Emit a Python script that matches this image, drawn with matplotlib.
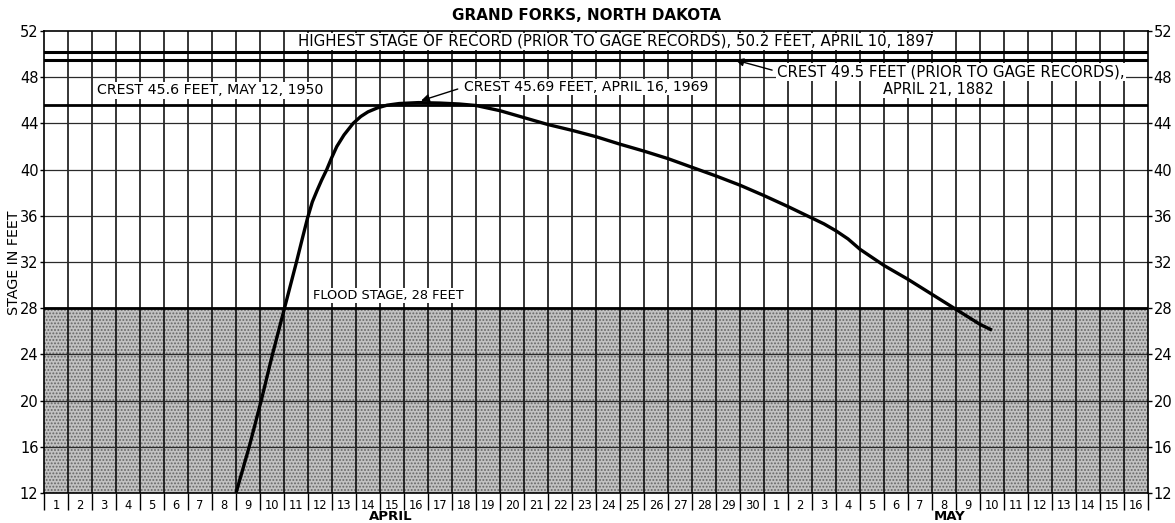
import matplotlib
matplotlib.use("Agg")
import matplotlib.pyplot as plt
from matplotlib.transforms import blended_transform_factory

# ---- data ----
# x = days elapsed since start of April 1 (cell of day n spans n-1..n)
hydro_day = [8.0, 8.55, 9.05, 9.52, 10.02, 10.52, 10.76, 10.98, 11.18, 11.38, 11.57,
             11.78, 11.98, 12.2, 12.5, 12.88, 13.2, 13.5, 13.9, 14.3, 14.8, 15.6, 16.5,
             17.3, 18.0, 19.0, 20.0, 21.0, 22.0, 23.0, 24.0, 25.0, 26.0, 27.0, 28.0,
             29.0, 30.0, 31.0, 32.0, 32.5, 33.0, 33.5, 34.0, 35.0, 36.0, 37.0, 38.0,
             39.0, 39.5]
hydro_stage = [12.0, 16.0, 20.0, 24.0, 28.0, 32.0, 34.0, 35.8, 37.2, 38.2, 39.1,
               40.0, 41.0, 42.0, 43.0, 44.0, 44.6, 45.0, 45.35, 45.58, 45.72, 45.8, 45.76,
               45.68, 45.55, 45.1, 44.5, 43.9, 43.4, 42.85, 42.2, 41.6, 40.95, 40.2,
               39.45, 38.65, 37.75, 36.8, 35.8, 35.3, 34.7, 34.0, 33.1, 31.7, 30.5,
               29.2, 27.9, 26.6, 26.1]

april_days = list(range(1, 31))
may_days = list(range(1, 17))
day_labels = [str(d) for d in april_days + may_days]

y_ticks = list(range(12, 53, 4))
flood_stage = 28.0
highest_1897 = 50.2
crest_1882 = 49.5
crest_1950 = 45.6
crest_1969 = 45.69
crest_1969_day = 15.6

title = "GRAND FORKS, NORTH DAKOTA"
ylabel = "STAGE IN FEET"

# ---- figure ----
fig = plt.figure(figsize=(11.75, 5.23), dpi=100)
ax = fig.add_axes([44/1175, 30/523, (1148-44)/1175, (493-31)/523])
n_days = len(day_labels)
ax.set_xlim(0, n_days)
ax.set_ylim(12, 52)

plt.rcParams['hatch.linewidth'] = 0.9
# stippled flood area
ax.axhspan(12, flood_stage, facecolor='#c2c2c2', hatch='.....', edgecolor='#666666',
           linewidth=0, zorder=0.5)

# grid
for i in range(1, n_days):
    ax.axvline(i, color='black', lw=1.1, zorder=1)
for yv in y_ticks[1:-1]:
    ax.axhline(yv, color='#2a2a2a', lw=0.9, zorder=1)

# reference lines
ax.axhline(highest_1897, color='black', lw=2.2, zorder=2)
ax.axhline(crest_1882, color='black', lw=2.2, zorder=2)
ax.axhline(crest_1950, color='black', lw=2.0, zorder=2)
ax.axhline(flood_stage, color='black', lw=2.0, zorder=2)

# hydrograph
ax.plot(hydro_day, hydro_stage, color='black', lw=2.4, solid_capstyle='butt',
        solid_joinstyle='round', zorder=3)

wbox = dict(facecolor='white', edgecolor='none', pad=1.0)

def label(x, y, s, size, ha='left'):
    ax.text(x, y, s, ha=ha, va='center', bbox=wbox, zorder=4,
            family='DejaVu Sans', fontsize=size, color='black')

label(10.6, 51.1, "HIGHEST STAGE OF RECORD (PRIOR TO GAGE RECORDS), 50.2 FEET, APRIL 10, 1897", 10.8)
label(2.2, 46.85, "CREST 45.6 FEET, MAY 12, 1950", 10.2)
label(17.5, 47.15, "CREST 45.69 FEET, APRIL 16, 1969", 10.1)
ax.annotate("", xy=(crest_1969_day, crest_1969 + 0.2), xytext=(17.35, 47.05),
            arrowprops=dict(arrowstyle='-|>', color='black', lw=1.0, mutation_scale=12),
            zorder=4)
label(30.55, 48.45, "CREST 49.5 FEET (PRIOR TO GAGE RECORDS),", 10.8)
label(37.25, 46.95, "APRIL 21, 1882", 10.5, ha='center')
ax.annotate("", xy=(28.7, crest_1882 + 0.05), xytext=(30.45, 48.55),
            arrowprops=dict(arrowstyle='-|>', color='black', lw=1.0, mutation_scale=12),
            zorder=5)
label(11.2, 29.1, "FLOOD STAGE, 28 FEET", 9.3)

# axes ticks
ax.set_yticks(y_ticks)
ax.set_yticklabels([str(v) for v in y_ticks], fontsize=10.5)
ax.tick_params(axis='y', which='both', left=True, right=True, labelleft=True,
               labelright=True, length=3, width=1, pad=1)

centers = [i + 0.5 for i in range(n_days)]
ax.set_xticks(centers)
ax.set_xticklabels(day_labels, fontsize=8.3)
ax.tick_params(axis='x', which='major', length=0, pad=4)
ax.set_xticks(list(range(0, n_days + 1)), minor=True)
ax.tick_params(axis='x', which='minor', length=12, width=1, direction='out')

for s in ax.spines.values():
    s.set_linewidth(1.2)

tr = blended_transform_factory(ax.transData, fig.transFigure)
ax.text(14.45, 7/523, "APRIL", transform=tr, ha='center', va='center',
        fontsize=9.5, fontweight='bold')
ax.text(37.75, 7/523, "MAY", transform=tr, ha='center', va='center',
        fontsize=9.5, fontweight='bold')

fig.text(587/1175, 1 - 15/523, title, ha='center', va='center', fontsize=10.9,
         fontweight='bold')
fig.text(14/1175, 1 - 263/523, ylabel, rotation=90, ha='center', va='center', fontsize=10.3)

fig.savefig("out.png", dpi=100)
